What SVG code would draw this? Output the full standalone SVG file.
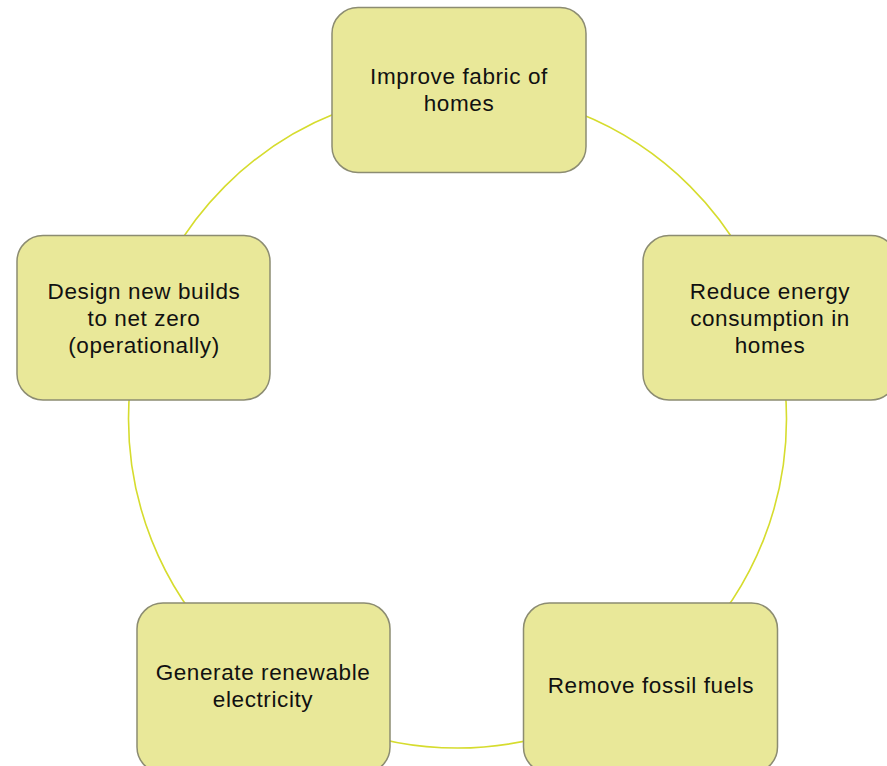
<svg xmlns="http://www.w3.org/2000/svg" width="887" height="766" viewBox="0 0 887 766">
<style>
.node rect{fill:#e9e899;stroke:#8c8c72;stroke-width:1.5}
.node text{font-family:"Liberation Sans",Arial,sans-serif;font-size:22.5px;letter-spacing:0.6px;fill:#111;text-anchor:middle}
.conn{fill:none;stroke:#d6dc2e;stroke-width:1.6}
</style>
<rect width="887" height="766" fill="#fff"/>
<g id="connectors">
<circle class="conn" cx="457.5" cy="419" r="329"/>
</g>
<g id="node-fabric" class="node">
<rect x="332" y="7.5" width="254" height="165" rx="26"/>
<text x="459" y="84">Improve fabric of</text>
<text x="459" y="111">homes</text>
</g>
<g id="node-energy" class="node">
<rect x="643" y="235.5" width="254" height="164.5" rx="26"/>
<text x="770" y="299">Reduce energy</text>
<text x="770" y="326">consumption in</text>
<text x="770" y="353">homes</text>
</g>
<g id="node-fossil" class="node">
<rect x="523.5" y="603" width="254" height="170" rx="26"/>
<text x="651" y="693">Remove fossil fuels</text>
</g>
<g id="node-renewable" class="node">
<rect x="137" y="603" width="253" height="170" rx="26"/>
<text x="263" y="680">Generate renewable</text>
<text x="263" y="707">electricity</text>
</g>
<g id="node-newbuild" class="node">
<rect x="17" y="235.5" width="253" height="164.5" rx="26"/>
<text x="144" y="299">Design new builds</text>
<text x="144" y="326">to net zero</text>
<text x="144" y="353">(operationally)</text>
</g>
</svg>
